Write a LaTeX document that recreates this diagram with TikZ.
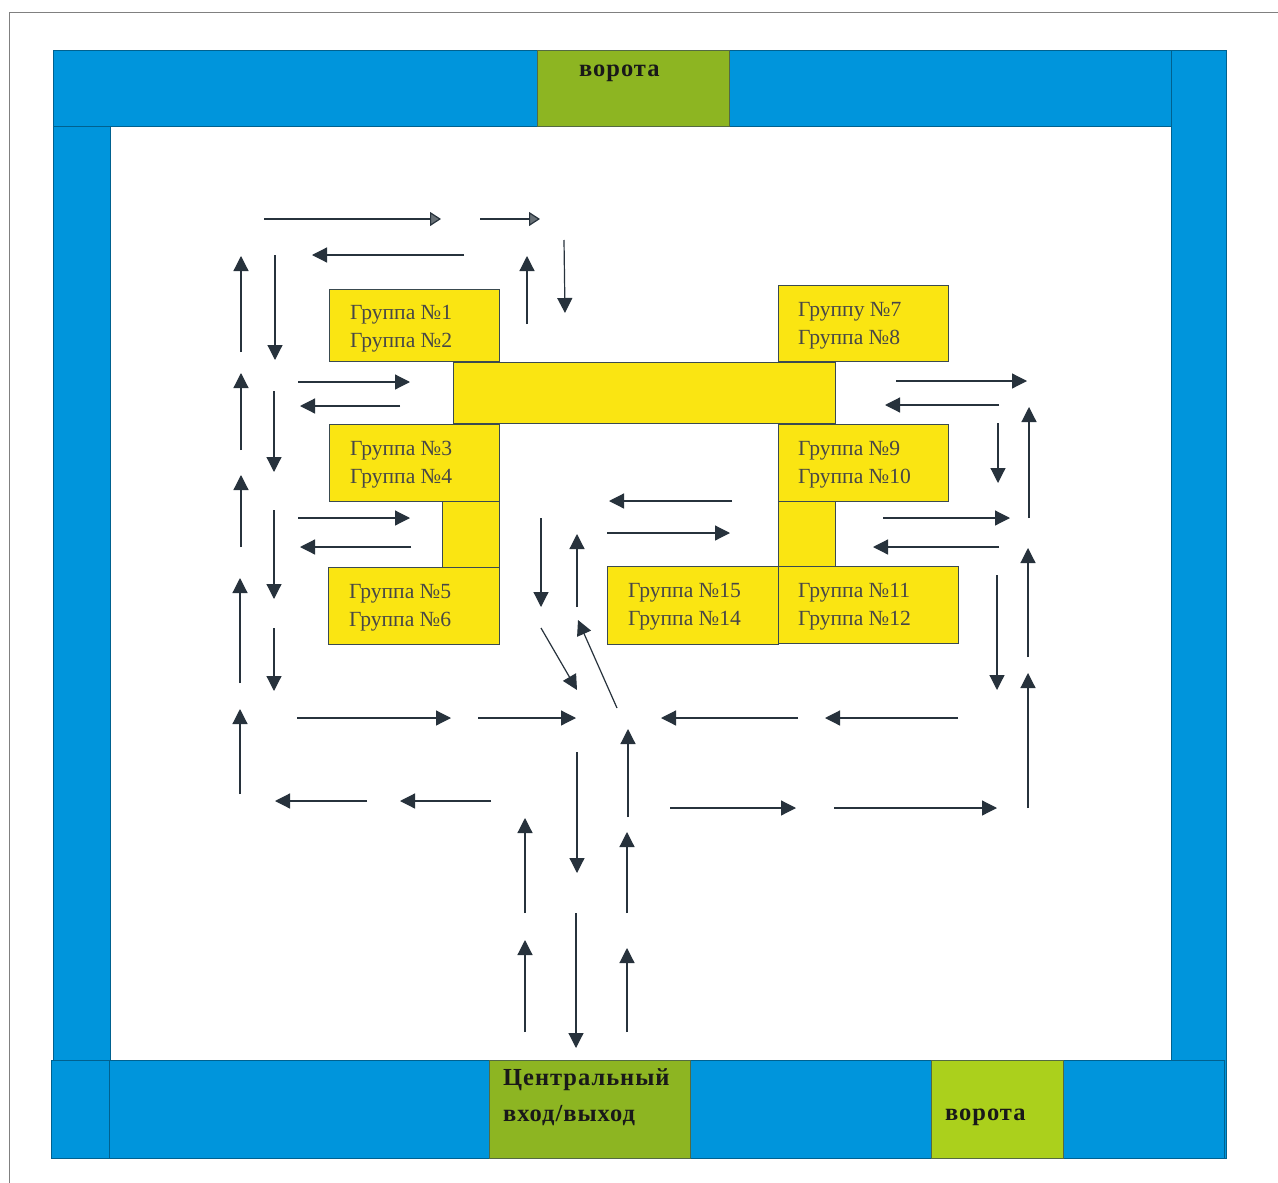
\documentclass[tikz,border=0pt]{standalone}
\usepackage{fontspec}
\setmainfont{Liberation Serif}
\newfontfamily\gatefont[LetterSpace=4]{Liberation Serif}
\usetikzlibrary{arrows.meta}
\definecolor{wallblue}{HTML}{0095DC}
\definecolor{gategreen}{HTML}{8DB522}
\definecolor{gatelime}{HTML}{ABD01C}
\definecolor{bldyellow}{HTML}{FAE512}
\definecolor{ink}{HTML}{27323C}
\definecolor{edge}{HTML}{3A4A50}
\tikzset{
  wall/.style={fill=wallblue,draw=wallblue!65!black,line width=.7pt},
  gate/.style={fill=gategreen,draw=edge!70!gategreen,line width=.7pt},
  bld/.style={fill=bldyellow,draw=edge,line width=.8pt},
  grouplabel/.style={anchor=west,align=left,inner sep=0pt,text=black!72,font=\fontsize{21.6}{28.3}\selectfont},
  gatelabel/.style={inner sep=0pt,text=black!90,font=\gatefont\bfseries\fontsize{24.5}{36}\selectfont,align=left},
  way/.style={draw=ink,line width=1.2pt,-{Triangle[width=15pt,length=15pt]}},
  wayfaint/.style={draw=ink,line width=1.2pt,-{Triangle[width=14pt,length=11pt,fill=ink!70]}}
}
\newcounter{wayc}
\newcommand{\wayarrow}[3][way]{%
  \stepcounter{wayc}%
  \coordinate (s\thewayc) at (#2);
  \coordinate (e\thewayc) at (#3);
  \draw[#1] (s\thewayc) -- (e\thewayc);
}
\begin{document}
\begin{tikzpicture}[x=1pt,y=-1pt]
\useasboundingbox (0,0) rectangle (1278,1183);
\fill[white] (0,0) rectangle (1278,1183);
% outer frame
\coordinate (f1) at (9,1183);
\coordinate (f2) at (9,12);
\coordinate (f3) at (1278,12);
\draw[black!50,line width=.9pt] (f1) -- (f2) -- (f3);
% walls
\node[wall,anchor=north west,minimum width=1119pt,minimum height=76pt,inner sep=0pt] (walltop) at (53,50) {};
\node[wall,anchor=north west,minimum width=57pt,minimum height=934pt,inner sep=0pt] (wallleft) at (53,126) {};
\node[wall,anchor=north west,minimum width=55pt,minimum height=1108pt,inner sep=0pt] (wallright) at (1171,50) {};
\node[wall,anchor=north west,minimum width=1173pt,minimum height=98pt,inner sep=0pt] (wallbottom) at (51,1060) {};
\coordinate (c1) at (109,1060);
\coordinate (c2) at (109,1158);
\draw[wallblue!65!black,line width=.6pt] (c1) -- (c2);
% gates
\node[gate,anchor=north west,minimum width=192pt,minimum height=76pt,inner sep=0pt] (gatetop) at (537,50) {};
\node[gate,anchor=north west,minimum width=201pt,minimum height=98pt,inner sep=0pt] (gatemain) at (489,1060) {};
\node[gate,fill=gatelime,anchor=north west,minimum width=132pt,minimum height=98pt,inner sep=0pt] (gateright) at (931,1060) {};
\node[gatelabel,anchor=west] (ltop) at (579,73) {ворота};
\node[gatelabel,anchor=north west] (lmain) at (503,1059) {\rule{0pt}{26pt}Центральный\\вход/выход};
\node[gatelabel,anchor=west] (lright) at (945,1117) {ворота};
% buildings
\node[bld,anchor=north west,minimum width=382pt,minimum height=61pt,inner sep=0pt] (hall) at (453,362) {};
\node[bld,anchor=north west,minimum width=57pt,minimum height=66pt,inner sep=0pt] (linkl) at (442,501) {};
\node[bld,anchor=north west,minimum width=57pt,minimum height=66pt,inner sep=0pt] (linkr) at (778,501) {};
\node[bld,anchor=north west,minimum width=170pt,minimum height=72pt,inner sep=0pt] (b1) at (329,289) {};
\node[bld,anchor=north west,minimum width=170pt,minimum height=77pt,inner sep=0pt] (b3) at (329,424) {};
\node[bld,anchor=north west,minimum width=171pt,minimum height=77pt,inner sep=0pt] (b5) at (328,567) {};
\node[bld,anchor=north west,minimum width=170pt,minimum height=76pt,inner sep=0pt] (b7) at (778,285) {};
\node[bld,anchor=north west,minimum width=170pt,minimum height=77pt,inner sep=0pt] (b9) at (778,424) {};
\node[bld,anchor=north west,minimum width=180pt,minimum height=77pt,inner sep=0pt] (b11) at (778,566) {};
\node[bld,anchor=north west,minimum width=171pt,minimum height=78pt,inner sep=0pt] (b15) at (607,566) {};
\node[grouplabel] (t1) at (350,328.5) {Группа №1\\Группа №2};
\node[grouplabel] (t3) at (350,464.5) {Группа №3\\Группа №4};
\node[grouplabel] (t5) at (349,607.5) {Группа №5\\Группа №6};
\node[grouplabel] (t7) at (798,326) {Группу №7\\Группа №8};
\node[grouplabel] (t9) at (798,464.5) {Группа №9\\Группа №10};
\node[grouplabel] (t11) at (798,607) {Группа №11\\Группа №12};
\node[grouplabel] (t15) at (628,607) {Группа №15\\Группа №14};
% arrows
\wayarrow[wayfaint]{264,219}{441,219}
\wayarrow[wayfaint]{480,219}{540,219}
\wayarrow{464,255}{312,255}
\wayarrow{527,324}{527,256}
\wayarrow{564,240}{565,313}
\wayarrow{241,352}{241,256}
\wayarrow{275,255}{275,360}
\wayarrow{241,450}{241,373}
\wayarrow{274,391}{274,472}
\wayarrow{241,547}{241,475}
\wayarrow{274,510}{274,599}
\wayarrow{240,683}{240,578}
\wayarrow{274,628}{274,691}
\wayarrow{240,794}{240,709}
\wayarrow{298,382}{410,382}
\wayarrow{400,406}{300,406}
\wayarrow{298,518}{410,518}
\wayarrow{411,547}{300,547}
\wayarrow{732,501}{609,501}
\wayarrow{607,533}{730,533}
\wayarrow{541,518}{541,607}
\wayarrow{577,607}{577,534}
\wayarrow{541,628}{577,690}
\wayarrow{617,708}{578,620}
\wayarrow{297,718}{451,718}
\wayarrow{478,718}{576,718}
\wayarrow{798,718}{661,718}
\wayarrow{958,718}{825,718}
\wayarrow{367,801}{275,801}
\wayarrow{491,801}{400,801}
\wayarrow{670,808}{796,808}
\wayarrow{834,808}{997,808}
\wayarrow{577,752}{577,873}
\wayarrow{628,817}{628,729}
\wayarrow{525,913}{525,818}
\wayarrow{627,913}{627,832}
\wayarrow{525,1032}{525,940}
\wayarrow{576,913}{576,1048}
\wayarrow{627,1032}{627,948}
\wayarrow{896,381}{1027,381}
\wayarrow{999,405}{885,405}
\wayarrow{883,518}{1010,518}
\wayarrow{999,547}{873,547}
\wayarrow{998,423}{998,483}
\wayarrow{1029,518}{1029,407}
\wayarrow{997,575}{997,690}
\wayarrow{1028,657}{1028,548}
\wayarrow{1028,808}{1028,673}
\end{tikzpicture}
\end{document}
